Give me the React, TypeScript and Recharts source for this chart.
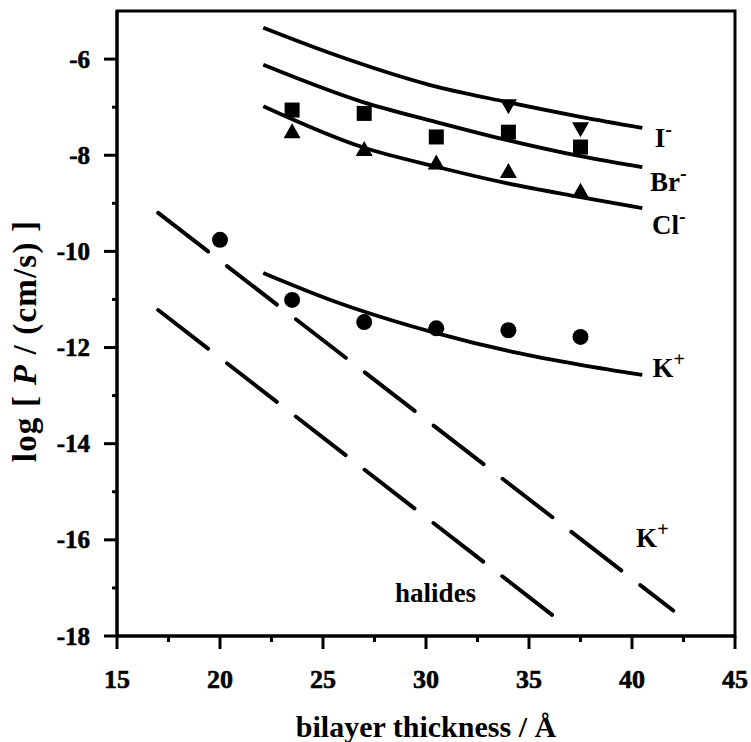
import React from 'react';
import { ComposedChart, XAxis, YAxis, Line, Scatter, ReferenceArea } from 'recharts';

// Theoretical curves (solid)
const iCurve = [
  { x: 22.1, y: -5.35 }, { x: 25.3, y: -5.87 }, { x: 30.2, y: -6.54 },
  { x: 33.9, y: -6.89 }, { x: 37.5, y: -7.2 }, { x: 40.5, y: -7.43 },
];
const brCurve = [
  { x: 22.1, y: -6.12 }, { x: 26.9, y: -6.89 }, { x: 30.5, y: -7.31 },
  { x: 33.9, y: -7.68 }, { x: 37.5, y: -8.02 }, { x: 40.5, y: -8.25 },
];
const clCurve = [
  { x: 22.1, y: -6.98 }, { x: 26.9, y: -7.83 }, { x: 30.5, y: -8.24 },
  { x: 33.9, y: -8.58 }, { x: 37.5, y: -8.87 }, { x: 40.5, y: -9.1 },
];
const kCurve = [
  { x: 22.1, y: -10.45 }, { x: 25.3, y: -11.0 }, { x: 30.5, y: -11.7 },
  { x: 34.2, y: -12.09 }, { x: 37.5, y: -12.36 }, { x: 40.5, y: -12.57 },
];
// Dashed straight lines
const kDashed = [{ x: 17, y: -9.2 }, { x: 42, y: -17.47 }];
const halDashed = [{ x: 17, y: -11.22 }, { x: 36.3, y: -17.62 }];

// Measured points
const brPts = [
  { x: 23.5, y: -7.06 }, { x: 27, y: -7.13 }, { x: 30.5, y: -7.62 },
  { x: 34, y: -7.52 }, { x: 37.5, y: -7.83 },
];
const clPts = [
  { x: 23.5, y: -7.52 }, { x: 27, y: -7.89 }, { x: 30.5, y: -8.17 },
  { x: 34, y: -8.35 }, { x: 37.5, y: -8.76 },
];
const iPts = [{ x: 34, y: -6.96 }, { x: 37.5, y: -7.44 }];
const kPts = [
  { x: 20, y: -9.76 }, { x: 23.5, y: -11.01 }, { x: 27, y: -11.47 },
  { x: 30.5, y: -11.6 }, { x: 34, y: -11.64 }, { x: 37.5, y: -11.78 },
];

// Text labels placed in data coordinates
const labels = [
  { x: 41.1, y: -7.64, text: 'I', sup: '-' },
  { x: 40.87, y: -8.56, text: 'Br', sup: '-' },
  { x: 40.97, y: -9.45, text: 'Cl', sup: '-' },
  { x: 41.0, y: -12.43, text: 'K', sup: '+' },
  { x: 40.2, y: -15.96, text: 'K', sup: '+' },
  { x: 28.5, y: -17.1, text: 'halides', sup: '' },
];

const xTicks = [15, 17.5, 20, 22.5, 25, 27.5, 30, 32.5, 35, 37.5, 40, 42.5, 45];
const xMajor = [15, 20, 25, 30, 35, 40, 45];
const yTicks = [-18, -17, -16, -15, -14, -13, -12, -11, -10, -9, -8, -7, -6];
const yMajor = [-18, -16, -14, -12, -10, -8, -6];

const FONT = '"Liberation Serif", "Times New Roman", serif';

const XTick = (props: any) => {
  const { x, y, payload } = props;
  const major = xMajor.includes(payload.value);
  return (
    <g>
      <line x1={x} y1={y} x2={x} y2={y + (major ? 13 : 6)} stroke="#000" strokeWidth={3} />
      {major && (
        <text x={x} y={y + 52} textAnchor="middle" fontFamily={FONT} fontWeight="bold" fontSize={26} fill="#000" stroke="#000" strokeWidth={0.6}>
          {payload.value}
        </text>
      )}
    </g>
  );
};

const YTick = (props: any) => {
  const { x, y, payload } = props;
  const major = yMajor.includes(payload.value);
  return (
    <g>
      <line x1={x} y1={y} x2={x - (major ? 13 : 5)} y2={y} stroke="#000" strokeWidth={3} />
      {major && (
        <text x={x - 27} y={y + 8.5} textAnchor="end" fontFamily={FONT} fontWeight="bold" fontSize={25} fill="#000" stroke="#000" strokeWidth={0.6}>
          {payload.value}
        </text>
      )}
    </g>
  );
};

const Square = (p: any) => <rect x={p.cx - 7.5} y={p.cy - 7.5} width={15} height={15} fill="#000" />;
const TriUp = (p: any) => (
  <path d={`M${p.cx},${p.cy - 9} L${p.cx + 8.5},${p.cy + 6} L${p.cx - 8.5},${p.cy + 6} Z`} fill="#000" />
);
const TriDown = (p: any) => (
  <path d={`M${p.cx},${p.cy + 9} L${p.cx + 8.5},${p.cy - 6} L${p.cx - 8.5},${p.cy - 6} Z`} fill="#000" />
);
const Dot = (p: any) => <circle cx={p.cx} cy={p.cy} r={8} fill="#000" />;

const LabelShape = (p: any) => {
  const { cx, cy, payload } = p;
  return (
    <text x={cx} y={cy + 9} fontFamily={FONT} fontWeight="bold" fontSize={27} fill="#000">
      {payload.text}
      {payload.sup && (
        <tspan dy={-11} fontSize={20}>{payload.sup}</tspan>
      )}
    </text>
  );
};

const YTitle = (props: any) => {
  const vb = props.viewBox || { x: 0, y: 11, width: 117, height: 625 };
  const cx = 25;
  const cy = vb.y + vb.height / 2 + 17.5;
  return (
    <text
      x={cx}
      y={cy}
      transform={`rotate(-90, ${cx}, ${cy})`}
      textAnchor="middle"
      dominantBaseline="central"
      fontFamily={FONT}
      fontWeight="bold"
      fontSize={33}
      letterSpacing={1.2}
      fill="#000"
    >
      {'log [ '}
      <tspan fontStyle="italic">P</tspan>
      {' / (cm/s) ]'}
    </text>
  );
};

const XTitle = (props: any) => {
  const vb = props.viewBox || { x: 117, y: 636, width: 618, height: 106 };
  return (
    <text
      x={vb.x + vb.width / 2}
      y={vb.y + 101}
      textAnchor="middle"
      fontFamily={FONT}
      fontWeight="bold"
      fontSize={30}
      fill="#000"
    >
      bilayer thickness / Å
    </text>
  );
};

export default function App() {
  const solid = { stroke: '#000', strokeWidth: 3.8, dot: false, activeDot: false, isAnimationActive: false, type: 'monotone' as const, dataKey: 'y' };
  const dashed = { stroke: '#000', strokeWidth: 4, dot: false, activeDot: false, isAnimationActive: false, type: 'linear' as const, dataKey: 'y', strokeDasharray: '63 24', strokeLinecap: 'round' as const };
  return (
    <div style={{ position: 'absolute', left: 0, top: 0, width: 751, height: 742 }}>
      <ComposedChart width={751} height={742} margin={{ top: 11, right: 16, bottom: 0, left: 0 }}>
        <XAxis
          type="number"
          dataKey="x"
          domain={[15, 45]}
          ticks={xTicks}
          interval={0}
          tickSize={0}
          tickMargin={0}
          tickLine={false}
          tick={<XTick />}
          axisLine={{ stroke: '#000', strokeWidth: 3 }}
          height={106}
          allowDataOverflow
          label={<XTitle />}
        />
        <YAxis
          type="number"
          dataKey="y"
          domain={[-18, -5]}
          ticks={yTicks}
          interval={0}
          tickSize={0}
          tickMargin={0}
          tickLine={false}
          tick={<YTick />}
          axisLine={{ stroke: '#000', strokeWidth: 3 }}
          width={117}
          allowDataOverflow
          label={<YTitle />}
        />
        <ReferenceArea x1={15} x2={45} y1={-18} y2={-5} fill="none" fillOpacity={0} stroke="#000" strokeWidth={3} />
        <Line data={iCurve} {...solid} />
        <Line data={brCurve} {...solid} />
        <Line data={clCurve} {...solid} />
        <Line data={kCurve} {...solid} />
        <Line data={kDashed} {...dashed} />
        <Line data={halDashed} {...dashed} />
        <Scatter data={brPts} dataKey="y" shape={<Square />} isAnimationActive={false} />
        <Scatter data={clPts} dataKey="y" shape={<TriUp />} isAnimationActive={false} />
        <Scatter data={iPts} dataKey="y" shape={<TriDown />} isAnimationActive={false} />
        <Scatter data={kPts} dataKey="y" shape={<Dot />} isAnimationActive={false} />
        <Scatter data={labels} dataKey="y" shape={<LabelShape />} isAnimationActive={false} />
      </ComposedChart>
    </div>
  );
}
